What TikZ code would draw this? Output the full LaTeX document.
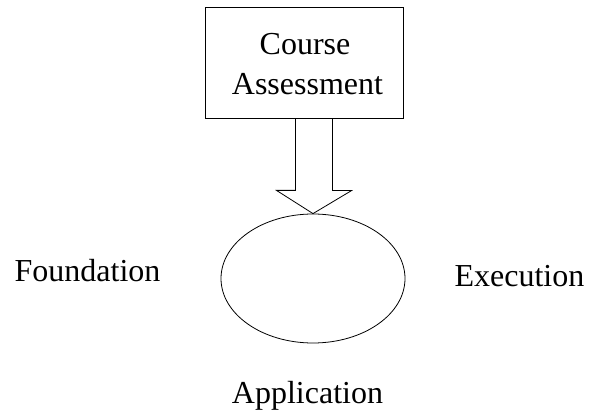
\documentclass[tikz,border=0pt]{standalone}
\usepackage{fontspec}
\setmainfont{Liberation Serif}
\usetikzlibrary{calc,shapes.geometric}
\begin{document}
\begin{tikzpicture}[x=1pt,y=-1pt,line width=0.8pt,
  lbl/.style={font=\fontsize{32}{40}\selectfont,anchor=base,inner sep=0pt}]
\useasboundingbox (0,0) rectangle (590,417);
\node[draw,minimum width=198pt,minimum height=111pt,inner sep=0pt] (box) at (304,62.5) {};
\node[lbl] (t1) at (305,55) {Course};
\node[lbl] (t2) at (307.5,94.5) {Assessment};
\node[draw,ellipse,minimum width=184pt,minimum height=129pt,inner sep=0pt] (ell) at (313,278.5) {};
\draw ($(box.south)+(-8.5,0)$) -- ++(0,72) -- ++(-19,0) -- (ell.north)
      -- ($(ell.north)+(38.5,-23)$) -- ++(-19,0) coordinate (r) -- (r |- box.south);
\node[lbl] (f) at (87.5,282) {Foundation};
\node[lbl] (e) at (519.5,287) {Execution};
\node[lbl] (a) at (307.5,403) {Application};
\end{tikzpicture}
\end{document}
